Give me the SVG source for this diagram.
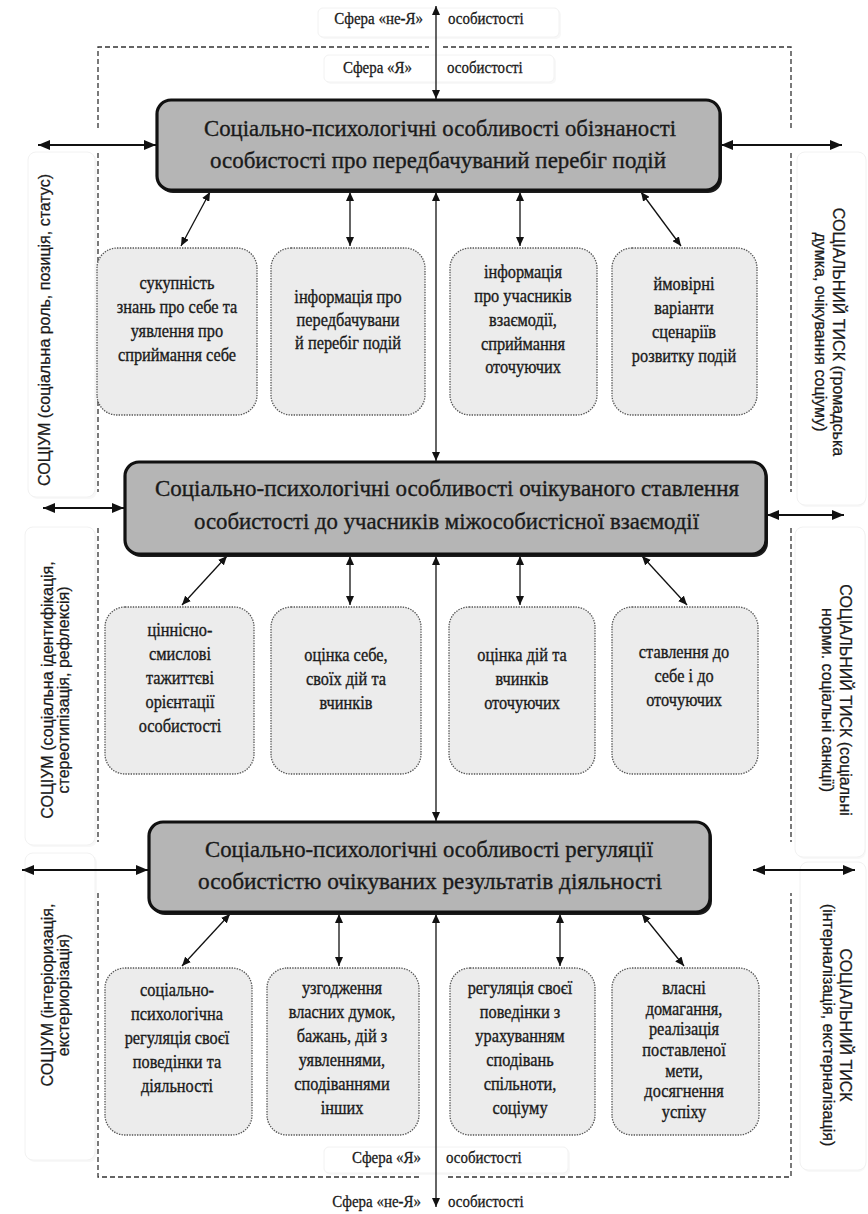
<svg xmlns="http://www.w3.org/2000/svg" width="868" height="1214" viewBox="0 0 868 1214">
<style>
.bg{fill:#fff}
.lbox{fill:#fff;stroke:#f2f2f2;stroke-width:1}
.lshadow{fill:#f8f8f8}
.main{fill:#b5b5b5;stroke:#111;stroke-width:3.2}
.mshadow{fill:#1c1c1c}
.sub{fill:#ececec;stroke:#555;stroke-width:1.3;stroke-dasharray:1.4 1.2}
.dash{fill:none;stroke:#333;stroke-width:1.3;stroke-dasharray:5 3}
.c{fill:none;stroke:#111;stroke-width:1.3;marker-start:url(#m);marker-end:url(#m)}
.cs{fill:none;stroke:#111;stroke-width:2.2;marker-start:url(#M);marker-end:url(#M)}
.mt{font-family:"Liberation Serif","DejaVu Serif",serif;font-size:23px;fill:#1a1a1a;stroke:#1a1a1a;stroke-width:0.35}
.st{font-family:"Liberation Serif","DejaVu Serif",serif;font-size:19px;fill:#1a1a1a;stroke:#1a1a1a;stroke-width:0.35;text-anchor:middle}
.sf{font-family:"Liberation Serif","DejaVu Serif",serif;font-size:17px;fill:#1a1a1a;stroke:#1a1a1a;stroke-width:0.3}
.lt{font-family:"Liberation Sans",Arial,sans-serif;font-size:16px;fill:#1a1a1a;stroke:#1a1a1a;stroke-width:0.25;text-anchor:middle}
</style>
<defs>
<marker id="m" viewBox="0 0 9 8" refX="9" refY="4" markerWidth="9" markerHeight="8" markerUnits="userSpaceOnUse" orient="auto-start-reverse"><path d="M0,0 L9,4 L0,8 z" fill="#111"/></marker>
<marker id="M" viewBox="0 0 12 10" refX="12" refY="5" markerWidth="12" markerHeight="10" markerUnits="userSpaceOnUse" orient="auto-start-reverse"><path d="M0,0 L12,5 L0,10 z" fill="#111"/></marker>
</defs>
<rect class="bg" x="0" y="0" width="868" height="1214"/>

<!-- faint label panels -->
<g id="panels">
<rect class="lshadow" x="320" y="10" width="241" height="29" rx="5"/>
<rect class="lbox" x="318" y="8" width="241" height="29" rx="5"/>
<rect class="lshadow" x="326" y="57" width="230" height="27" rx="5"/>
<rect class="lbox" x="324" y="55" width="230" height="27" rx="5"/>
<rect class="lshadow" x="326" y="1149" width="244" height="26" rx="5"/>
<rect class="lbox" x="324" y="1147" width="244" height="26" rx="5"/>
<rect class="lshadow" x="30" y="154" width="67" height="345" rx="8"/>
<rect class="lbox" x="28" y="152" width="67" height="345" rx="8"/>
<rect class="lshadow" x="27" y="529" width="70" height="318" rx="8"/>
<rect class="lbox" x="25" y="527" width="70" height="318" rx="8"/>
<rect class="lshadow" x="27" y="855" width="70" height="307" rx="8"/>
<rect class="lbox" x="25" y="853" width="70" height="307" rx="8"/>
<rect class="lshadow" x="799" y="154" width="67" height="353" rx="8"/>
<rect class="lbox" x="797" y="152" width="69" height="353" rx="8"/>
<rect class="lshadow" x="797" y="529" width="69" height="330" rx="8"/>
<rect class="lbox" x="795" y="527" width="70" height="330" rx="8"/>
<rect class="lshadow" x="802" y="864" width="64" height="308" rx="8"/>
<rect class="lbox" x="800" y="862" width="66" height="308" rx="8"/>
</g>

<!-- dashed boundary of the "Я" sphere -->
<g id="boundary">
<path class="dash" d="M98,128 V47 H429 M443,47 H791 V128"/>
<path class="dash" d="M98,153 V492 M791,153 V492"/>
<path class="dash" d="M98,528 V842 M791,528 V842"/>
<path class="dash" d="M98,893 V1177 H421 M448,1177 H791 V893"/>
</g>

<!-- side labels -->
<g id="label-left-1"><text class="lt" transform="translate(50,330) rotate(-90)">СОЦІУМ (соціальна роль, позиція, статус)</text></g>
<g id="label-left-2" transform="translate(0,690) rotate(-90)">
<text class="lt" x="0" y="53">СОЦІУМ (соціальна ідентифікація,</text>
<text class="lt" x="0" y="69">стереотипізація, рефлексія)</text>
</g>
<g id="label-left-3" transform="translate(0,995) rotate(-90)">
<text class="lt" x="0" y="53">СОЦІУМ (інтеріоризація,</text>
<text class="lt" x="0" y="69">екстериорізація)</text>
</g>
<g id="label-right-1" transform="translate(868,332) rotate(90)">
<text class="lt" x="0" y="35">СОЦІАЛЬНИЙ ТИСК (громадська</text>
<text class="lt" x="0" y="53">думка, очікування соціуму)</text>
</g>
<g id="label-right-2" transform="translate(868,700) rotate(90)">
<text class="lt" x="0" y="28">СОЦІАЛЬНИЙ ТИСК (соціальні</text>
<text class="lt" x="0" y="46">норми. соціальні санкції)</text>
</g>
<g id="label-right-3" transform="translate(868,1025) rotate(90)">
<text class="lt" x="0" y="28">СОЦІАЛЬНИЙ ТИСК</text>
<text class="lt" x="0" y="45">(інтерналізація, екстерналізація)</text>
</g>

<!-- sphere labels -->
<g id="sphere-labels">
<g transform="translate(423,0) scale(.88,1)"><text class="sf" x="0" y="24" text-anchor="end">Сфера «не-Я»</text></g>
<g transform="translate(448,0) scale(.88,1)"><text class="sf" x="0" y="24">особистості</text></g>
<g transform="translate(412,0) scale(.88,1)"><text class="sf" x="0" y="73" text-anchor="end">Сфера «Я»</text></g>
<g transform="translate(447,0) scale(.88,1)"><text class="sf" x="0" y="73">особистості</text></g>
<g transform="translate(421,0) scale(.88,1)"><text class="sf" x="0" y="1163" text-anchor="end">Сфера «Я»</text></g>
<g transform="translate(446,0) scale(.88,1)"><text class="sf" x="0" y="1163">особистості</text></g>
<g transform="translate(421,0) scale(.88,1)"><text class="sf" x="0" y="1207" text-anchor="end">Сфера «не-Я»</text></g>
<g transform="translate(448,0) scale(.88,1)"><text class="sf" x="0" y="1207">особистості</text></g>
</g>

<!-- connectors -->
<g id="connectors">
<line class="c" x1="436" y1="6" x2="436" y2="99"/>
<line class="c" x1="436" y1="192" x2="436" y2="461"/>
<line class="c" x1="436" y1="556" x2="436" y2="821"/>
<line class="c" x1="436" y1="914" x2="436" y2="1207"/>
<line class="cs" x1="38" y1="145" x2="156" y2="145"/>
<line class="cs" x1="721" y1="145" x2="842" y2="145"/>
<line class="cs" x1="43" y1="508" x2="124" y2="508"/>
<line class="cs" x1="767" y1="515" x2="844" y2="515"/>
<line class="cs" x1="22" y1="870" x2="148" y2="870"/>
<line class="cs" x1="753" y1="870" x2="855" y2="870"/>
<line class="c" x1="210" y1="192" x2="181" y2="246"/>
<line class="c" x1="350" y1="192" x2="350" y2="246"/>
<line class="c" x1="520" y1="192" x2="520" y2="246"/>
<line class="c" x1="641" y1="192" x2="681" y2="246"/>
<line class="c" x1="227" y1="556" x2="182" y2="605"/>
<line class="c" x1="350" y1="556" x2="350" y2="605"/>
<line class="c" x1="520" y1="556" x2="520" y2="605"/>
<line class="c" x1="642" y1="556" x2="687" y2="605"/>
<line class="c" x1="230" y1="914" x2="182" y2="966"/>
<line class="c" x1="339" y1="914" x2="339" y2="966"/>
<line class="c" x1="560" y1="914" x2="560" y2="966"/>
<line class="c" x1="642" y1="914" x2="684" y2="966"/>
</g>

<!-- main nodes -->
<g id="main-1">
<rect class="mshadow" x="159" y="103" width="563" height="90" rx="14"/>
<rect class="main" x="157" y="100" width="563" height="90" rx="14"/>
<text class="mt" x="204" y="136" textLength="472" lengthAdjust="spacingAndGlyphs">Соціально-психологічні особливості обізнаності</text>
<text class="mt" x="210" y="168" textLength="456" lengthAdjust="spacingAndGlyphs">особистості про передбачуваний перебіг подій</text>
</g>
<g id="main-2">
<rect class="mshadow" x="127" y="465" width="641" height="92" rx="14"/>
<rect class="main" x="125" y="462" width="641" height="92" rx="14"/>
<text class="mt" x="155" y="496" textLength="584" lengthAdjust="spacingAndGlyphs">Соціально-психологічні особливості очікуваного ставлення</text>
<text class="mt" x="194" y="529" textLength="505" lengthAdjust="spacingAndGlyphs">особистості до учасників міжособистісної взаємодії</text>
</g>
<g id="main-3">
<rect class="mshadow" x="151" y="825" width="561" height="90" rx="14"/>
<rect class="main" x="149" y="822" width="561" height="90" rx="14"/>
<text class="mt" x="205" y="857" textLength="448" lengthAdjust="spacingAndGlyphs">Соціально-психологічні особливості регуляції</text>
<text class="mt" x="198" y="889" textLength="464" lengthAdjust="spacingAndGlyphs">особистістю очікуваних результатів діяльності</text>
</g>

<!-- row 1 -->
<g id="r1-1"><rect class="sub" x="97" y="248" width="160" height="167" rx="20"/>
<g transform="translate(177,0) scale(.86,1)"><text class="st" x="0" y="289">сукупність</text><text class="st" x="0" y="313">знань про себе та</text><text class="st" x="0" y="337">уявлення про</text><text class="st" x="0" y="361">сприймання себе</text></g></g>
<g id="r1-2"><rect class="sub" x="271" y="248" width="154" height="167" rx="20"/>
<g transform="translate(348,0) scale(.86,1)"><text class="st" x="0" y="303">інформація про</text><text class="st" x="0" y="326">передбачувани</text><text class="st" x="0" y="349">й перебіг подій</text></g></g>
<g id="r1-3"><rect class="sub" x="450" y="248" width="147" height="167" rx="20"/>
<g transform="translate(523,0) scale(.86,1)"><text class="st" x="0" y="278">інформація</text><text class="st" x="0" y="302">про учасників</text><text class="st" x="0" y="326">взаємодії,</text><text class="st" x="0" y="350">сприймання</text><text class="st" x="0" y="373">оточуючих</text></g></g>
<g id="r1-4"><rect class="sub" x="612" y="248" width="145" height="167" rx="20"/>
<g transform="translate(684,0) scale(.86,1)"><text class="st" x="0" y="290">ймовірні</text><text class="st" x="0" y="314">варіанти</text><text class="st" x="0" y="338">сценаріїв</text><text class="st" x="0" y="362">розвитку подій</text></g></g>

<!-- row 2 -->
<g id="r2-1"><rect class="sub" x="105" y="607" width="149" height="167" rx="20"/>
<g transform="translate(180,0) scale(.86,1)"><text class="st" x="0" y="636">ціннісно-</text><text class="st" x="0" y="660">смислові</text><text class="st" x="0" y="684">тажиттєві</text><text class="st" x="0" y="708">орієнтації</text><text class="st" x="0" y="732">особистості</text></g></g>
<g id="r2-2"><rect class="sub" x="271" y="607" width="150" height="167" rx="20"/>
<g transform="translate(346,0) scale(.86,1)"><text class="st" x="0" y="661">оцінка себе,</text><text class="st" x="0" y="685">своїх дій та</text><text class="st" x="0" y="709">вчинків</text></g></g>
<g id="r2-3"><rect class="sub" x="449" y="607" width="146" height="167" rx="20"/>
<g transform="translate(522,0) scale(.86,1)"><text class="st" x="0" y="661">оцінка дій та</text><text class="st" x="0" y="685">вчинків</text><text class="st" x="0" y="709">оточуючих</text></g></g>
<g id="r2-4"><rect class="sub" x="612" y="607" width="146" height="167" rx="20"/>
<g transform="translate(684,0) scale(.86,1)"><text class="st" x="0" y="658">ставлення до</text><text class="st" x="0" y="682">себе і до</text><text class="st" x="0" y="706">оточуючих</text></g></g>

<!-- row 3 -->
<g id="r3-1"><rect class="sub" x="105" y="968" width="147" height="167" rx="20"/>
<g transform="translate(177,0) scale(.86,1)"><text class="st" x="0" y="996">соціально-</text><text class="st" x="0" y="1020">психологічна</text><text class="st" x="0" y="1044">регуляція своєї</text><text class="st" x="0" y="1068">поведінки та</text><text class="st" x="0" y="1092">діяльності</text></g></g>
<g id="r3-2"><rect class="sub" x="267" y="968" width="152" height="167" rx="20"/>
<g transform="translate(342,0) scale(.86,1)"><text class="st" x="0" y="994">узгодження</text><text class="st" x="0" y="1018">власних думок,</text><text class="st" x="0" y="1042">бажань, дій з</text><text class="st" x="0" y="1066">уявленнями,</text><text class="st" x="0" y="1090">сподіваннями</text><text class="st" x="0" y="1114">інших</text></g></g>
<g id="r3-3"><rect class="sub" x="450" y="968" width="145" height="167" rx="20"/>
<g transform="translate(520,0) scale(.86,1)"><text class="st" x="0" y="994">регуляція своєї</text><text class="st" x="0" y="1018">поведінки з</text><text class="st" x="0" y="1042">урахуванням</text><text class="st" x="0" y="1066">сподівань</text><text class="st" x="0" y="1090">спільноти,</text><text class="st" x="0" y="1114">соціуму</text></g></g>
<g id="r3-4"><rect class="sub" x="612" y="968" width="147" height="167" rx="20"/>
<g transform="translate(684,0) scale(.86,1)"><text class="st" x="0" y="994">власні</text><text class="st" x="0" y="1015">домагання,</text><text class="st" x="0" y="1035">реалізація</text><text class="st" x="0" y="1056">поставленої</text><text class="st" x="0" y="1077">мети,</text><text class="st" x="0" y="1097">досягнення</text><text class="st" x="0" y="1118">успіху</text></g></g>
</svg>
